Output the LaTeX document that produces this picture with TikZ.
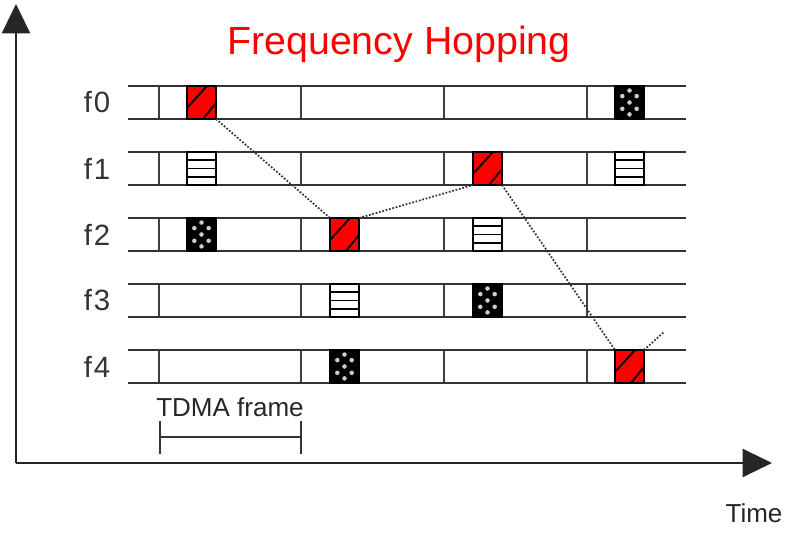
\documentclass[tikz,border=0pt]{standalone}
\usepackage{fontspec}
\setmainfont{Liberation Sans}
\usetikzlibrary{arrows.meta,calc}
\begin{document}
\begin{tikzpicture}[x=0.75pt,y=-0.75pt,
  rowline/.style={line width=1.8pt, draw=black!80},
  sepline/.style={line width=1.6pt, draw=black!75},
  axis/.style={line width=1.7pt, draw=black!85, -{Triangle[length=22pt,width=21pt]}},
  slotbox/.style={draw=black, line width=1.4pt, minimum width=21.75pt, minimum height=24.75pt, inner sep=0pt, outer sep=0pt},
  hop/.style={slotbox, fill=red, path picture={
      \coordinate (nw) at (path picture bounding box.north west);
      \draw[line width=1.4pt] ($(nw)+(0pt,-16.5pt)$) -- ($(nw)+(15pt,0pt)$)
                              ($(nw)+(12pt,-24.75pt)$) -- ($(nw)+(21.75pt,-12.75pt)$);}},
  stripes/.style={slotbox, fill=white, path picture={
      \coordinate (nw) at (path picture bounding box.north west);
      \foreach \dy in {6.1875,12.375,18.5625}
        \draw[line width=1.4pt] ($(nw)+(0pt,-\dy pt)$) -- ($(nw)+(21.75pt,-\dy pt)$);}},
  dotted box/.style={slotbox, fill=black, path picture={
      \coordinate (nw) at (path picture bounding box.north west);
      \foreach \dx/\dy in {10.875/3.4, 5.5/7.6, 16.25/7.6, 10.875/12.375, 5.5/17.1, 16.25/17.1, 10.875/21.3}
        \fill[white!80!black] ($(nw)+(\dx pt,-\dy pt)$) circle [radius=1.7pt];}},
  hopline/.style={line width=1.3pt, draw=black!80, dash pattern=on 1.3pt off 1.3pt},
  flabel/.style={font=\fontsize{22}{26}\selectfont, text=black!80, inner sep=0pt},
  txt/.style={font=\fontsize{19.5}{23}\selectfont, text=black!85, inner sep=0pt}
]
\useasboundingbox (0,0) rectangle (794,538);

% axes
\coordinate (origin) at (16,463);
\coordinate (ytip) at (16,4);
\coordinate (xtip) at (772,463);
\draw[axis] (origin) -- (ytip);
\draw[axis] (origin) -- (xtip);

% title
\node[font=\fontsize{29.5}{34}\selectfont, text=red, anchor=base, inner sep=0pt] (title) at (399,55) {Frequency Hopping};

% rows
\foreach \i in {0,...,4}{
  \pgfmathsetmacro{\top}{86+66*\i}
  \pgfmathsetmacro{\bot}{119+66*\i}
  \foreach \sx in {159,301,444,587}
    \draw[sepline] (\sx,\top) -- (\sx,\bot);
  \draw[rowline] (128,\top) -- (686,\top);
  \draw[rowline] (128,\bot) -- (686,\bot);
  \node[flabel] (lf\i) at (97,102.5+66*\i) {f\kern1.5pt\i};
}

% slots
\node[hop]        (s01) at (201.5,102.5) {};
\node[dotted box] (s04) at (629.5,102.5) {};
\node[stripes]    (s11) at (201.5,168.5) {};
\node[hop]        (s13) at (487.5,168.5) {};
\node[stripes]    (s14) at (629.5,168.5) {};
\node[dotted box] (s21) at (201.5,234.5) {};
\node[hop]        (s22) at (344.5,234.5) {};
\node[stripes]    (s23) at (487.5,234.5) {};
\node[stripes]    (s32) at (344.5,300.5) {};
\node[dotted box] (s33) at (487.5,300.5) {};
\node[dotted box] (s42) at (344.5,366.5) {};
\node[hop]        (s44) at (629.5,366.5) {};

% hopping path
\coordinate (hopend) at (664,332);
\draw[hopline] (s01.south east) -- (s22.north west);
\draw[hopline] (s22.north east) -- (s13.south west);
\draw[hopline] (s13.south east) -- (s44.north west);
\draw[hopline] (s44.north east) -- (hopend);

% TDMA frame bracket
\node[txt] (tdma) at (230,407) {TDMA frame};
\coordinate (bl) at (160,437);
\coordinate (br) at (301,437);
\draw[line width=1.6pt, draw=black!80] (160,421) -- (160,454);
\draw[line width=1.6pt, draw=black!80] (301,421) -- (301,454);
\draw[line width=1.6pt, draw=black!80] (bl) -- (br);

% time label
\node[txt] (time) at (754,513) {Time};
\end{tikzpicture}
\end{document}
